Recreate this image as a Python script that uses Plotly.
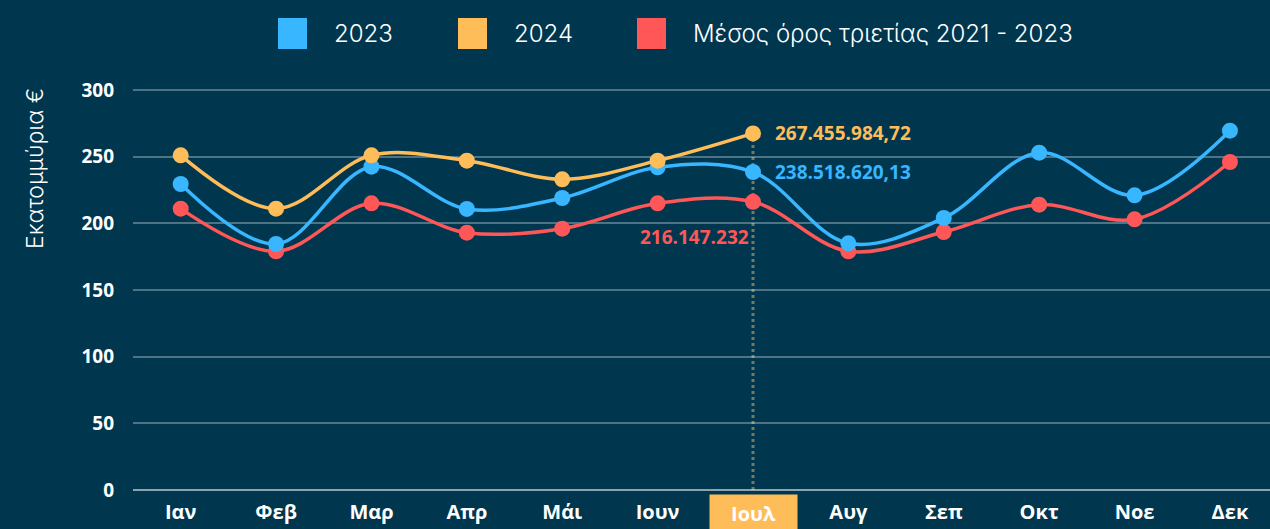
import plotly.graph_objects as go

months = ["Ιαν", "Φεβ", "Μαρ", "Απρ", "Μάι", "Ιουν", "Ιουλ", "Αυγ", "Σεπ", "Οκτ", "Νοε", "Δεκ"]
vals_2023 = [229.5, 184.5, 242.5, 210.8, 219.0, 242.0, 238.518620, 185.0, 204.0, 253.0, 221.0, 269.5]
vals_2024 = [251.0, 211.0, 251.0, 247.0, 233.0, 247.0, 267.455985]
vals_avg = [211.0, 179.0, 215.0, 193.0, 196.0, 215.0, 216.147232, 179.0, 193.5, 214.0, 203.0, 246.0]
series_names = ["2023", "2024", "Μέσος όρος τριετίας 2021 - 2023"]
label_2023 = "238.518.620,13"
label_2024 = "267.455.984,72"
label_avg = "216.147.232"
y_ticks = [0, 50, 100, 150, 200, 250, 300]
y_title = "Εκατομμύρια €"
highlight_idx = 6

BG = "#00374F"
BLUE = "#38B6FF"
YELLOW = "#FFBD59"
RED = "#FF5757"

W, H = 1270, 529
ML, MR, MT, MB = 133, 0, 88, 39
PW, PH = W - ML - MR, H - MT - MB
YMAX = 301.5

def px(x):
    return (x - ML) / PW

def py(y):
    return (H - MB - y) / PH

fig = go.Figure()
for name, vals, col in [(series_names[2], vals_avg, RED), (series_names[0], vals_2023, BLUE), (series_names[1], vals_2024, YELLOW)]:
    fig.add_trace(go.Scatter(
        x=months[:len(vals)], y=vals, name=name, mode="lines+markers",
        line=dict(color=col, width=3.5, shape="spline", smoothing=1.0),
        marker=dict(color=col, size=16), showlegend=False,
    ))

# dotted vertical line at highlighted month
fig.add_shape(type="line", xref="x", yref="y", x0=months[highlight_idx], x1=months[highlight_idx],
              y0=0, y1=vals_2024[highlight_idx], line=dict(color="#737a5e", width=3, dash="dot"), layer="below")

# value annotations
fig.add_annotation(x=months[highlight_idx], y=vals_2024[highlight_idx], text=f"<b>{label_2024}</b>",
                   showarrow=False, xanchor="left", yanchor="middle", xshift=20,
                   font=dict(color=YELLOW, size=19, family="Open Sans"))
fig.add_annotation(x=months[highlight_idx], y=vals_2023[highlight_idx], text=f"<b>{label_2023}</b>",
                   showarrow=False, xanchor="left", yanchor="middle", xshift=20,
                   font=dict(color=BLUE, size=19, family="Open Sans"))
fig.add_annotation(x=months[highlight_idx], y=vals_avg[highlight_idx], text=f"<b>{label_avg}</b>",
                   showarrow=False, xanchor="right", yanchor="middle", xshift=-2, yshift=-35,
                   font=dict(color=RED, size=19, family="Open Sans"))

# highlighted tick label
fig.add_annotation(x=months[highlight_idx], y=py(513), yref="paper", text=f"<b>{months[highlight_idx]}</b>",
                   showarrow=False, bgcolor=YELLOW, width=85, height=34, xanchor="center", yanchor="middle",
                   font=dict(color="white", size=20, family="Open Sans"))

# y-axis title
fig.add_annotation(x=px(35), y=py(169), xref="paper", yref="paper", text=y_title, textangle=-90,
                   xanchor="center", yanchor="middle",
                   showarrow=False, font=dict(color="white", size=23, family="Inter", weight=300))

# custom legend
legend_items = [(series_names[0], BLUE, 278), (series_names[1], YELLOW, 458), (series_names[2], RED, 637)]
for name, col, x0 in legend_items:
    fig.add_shape(type="rect", xref="paper", yref="paper", x0=px(x0), x1=px(x0 + 29), y0=py(49), y1=py(18),
                  fillcolor=col, line=dict(width=0))
    fig.add_annotation(x=px(x0 + 54), y=py(33), xref="paper", yref="paper", text=name, xanchor="left",
                       yanchor="middle", showarrow=False,
                       font=dict(color="white", size=24, family="Inter", weight=300))

ticktext = [m if i != highlight_idx else "" for i, m in enumerate(months)]
fig.update_layout(
    width=W, height=H, margin=dict(l=ML, r=MR, t=MT, b=MB),
    paper_bgcolor=BG, plot_bgcolor=BG,
    xaxis=dict(range=[-0.5, 11.42], tickvals=months, ticktext=ticktext, showgrid=False, zeroline=False,
               tickfont=dict(color="white", size=20, family="Open Sans", weight="bold"), ticklabelstandoff=8,
               showline=False),
    yaxis=dict(range=[0, YMAX], tickvals=y_ticks, showgrid=True, gridcolor="rgba(255,255,255,0.3)", gridwidth=2,
               zeroline=True, zerolinecolor="rgba(255,255,255,0.55)", zerolinewidth=2,
               tickfont=dict(color="white", size=19, family="Open Sans", weight="bold"), ticklabelstandoff=18),
    showlegend=False,
)
fig.write_html("out.html", config={"displayModeBar": False},
               post_script="document.body.style.margin='0';document.body.style.overflow='hidden';")
